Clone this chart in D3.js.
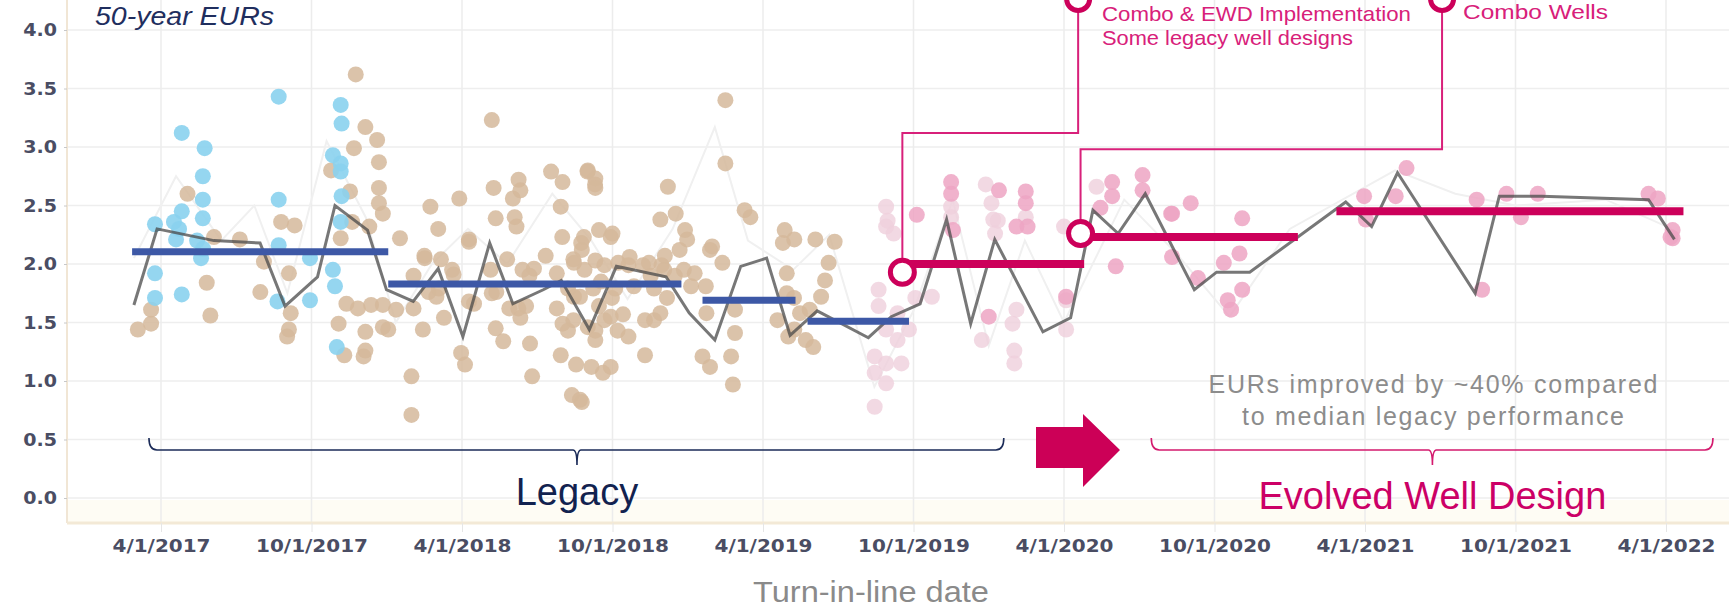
<!DOCTYPE html>
<html>
<head>
<meta charset="utf-8">
<script src="https://cdn.jsdelivr.net/npm/d3@7"></script>
<style>
  body { margin: 0; background: #fff; }
  svg { display: block; font-family: "Liberation Sans", Arial, sans-serif; }
</style>
</head>
<body>
<div id="canvas"></div>
<script>
"use strict"

/* Data: x is a decimal year (2017.25 = 4/1/2017), y is the 50-year EUR */
let xTickValues = [2017.25, 2017.75, 2018.25, 2018.75, 2019.25, 2019.75, 2020.25, 2020.75, 2021.25, 2021.75, 2022.25];
let xTickLabels = ["4/1/2017", "10/1/2017", "4/1/2018", "10/1/2018", "4/1/2019", "10/1/2019",
    "4/1/2020", "10/1/2020", "4/1/2021", "10/1/2021", "4/1/2022"];
let yTickValues = [0, 0.5, 1, 1.5, 2, 2.5, 3, 3.5, 4];

let bluePoints = [
    [2017.23, 2.34], [2017.23, 1.92], [2017.23, 1.71], [2017.293, 2.36], [2017.319, 3.12], [2017.319, 2.45],
    [2017.319, 1.74], [2017.395, 2.99], [2017.389, 2.75], [2017.389, 2.55], [2017.389, 2.39], [2017.383, 2.05],
    [2017.30, 2.21], [2017.31, 2.30], [2017.37, 2.20], [2017.39, 2.13], [2017.641, 3.43], [2017.641, 2.55],
    [2017.641, 2.16], [2017.637, 1.68], [2017.745, 1.69], [2017.745, 2.05], [2017.821, 2.93], [2017.821, 1.95],
    [2017.828, 1.81], [2017.834, 1.29], [2017.847, 3.36], [2017.85, 3.20], [2017.847, 2.86], [2017.847, 2.79],
    [2017.85, 2.58], [2017.847, 2.36]
];

let tanPoints = [
    [2017.897, 3.62], [2017.338, 2.60], [2017.929, 3.17], [2017.968, 3.06], [2017.891, 2.99], [2017.974, 2.87],
    [2017.815, 2.80], [2017.974, 2.65], [2017.878, 2.62], [2017.974, 2.52], [2017.987, 2.43], [2017.942, 2.32],
    [2017.885, 2.36], [2017.847, 2.22], [2018.145, 2.49], [2018.171, 2.30], [2018.241, 2.56], [2018.044, 2.22],
    [2018.273, 2.21], [2018.349, 3.23], [2018.355, 2.65], [2018.419, 2.56], [2018.438, 2.72], [2018.444, 2.63],
    [2018.362, 2.39], [2018.425, 2.40], [2018.431, 2.32], [2018.546, 2.79], [2018.584, 2.70], [2018.578, 2.49],
    [2018.667, 2.79], [2018.692, 2.68], [2017.426, 2.23], [2017.512, 2.21], [2017.649, 2.36], [2017.694, 2.33],
    [2017.173, 1.44], [2017.217, 1.49], [2017.217, 1.61], [2017.402, 1.84], [2017.414, 1.56], [2017.58, 1.76],
    [2017.592, 2.02], [2017.675, 1.92], [2017.681, 1.58], [2017.675, 1.44], [2017.669, 1.38], [2017.84, 1.49],
    [2017.859, 1.22], [2017.929, 1.42], [2017.929, 1.26], [2017.923, 1.21], [2017.866, 1.66], [2017.904, 1.62],
    [2017.948, 1.65], [2017.987, 1.65], [2018.031, 1.61], [2017.987, 1.46], [2018.005, 1.44], [2018.082, 1.04],
    [2018.082, 0.71], [2018.12, 1.44], [2018.19, 1.54], [2018.126, 2.05], [2018.139, 1.76], [2018.165, 1.72],
    [2018.222, 1.91], [2018.247, 1.24], [2018.26, 1.14], [2018.273, 2.19], [2018.273, 1.68], [2018.349, 1.75],
    [2018.362, 1.45], [2018.387, 1.34], [2018.444, 1.54], [2018.451, 1.95], [2018.489, 1.96], [2018.463, 1.64],
    [2018.476, 1.32], [2018.483, 1.04], [2018.578, 1.22], [2018.615, 0.88], [2018.648, 0.82], [2018.629, 1.14],
    [2018.68, 1.12], [2018.584, 1.49], [2018.622, 1.72], [2018.622, 2.01], [2018.648, 2.12], [2018.655, 2.23],
    [2018.744, 2.23], [2018.693, 2.03], [2018.769, 2.01], [2018.807, 2.06], [2018.871, 2.01], [2018.922, 1.95],
    [2018.973, 2.12], [2018.998, 2.21], [2019.023, 1.92], [2019.011, 1.81], [2019.074, 2.12], [2018.642, 1.72],
    [2018.705, 1.64], [2018.744, 1.55], [2018.668, 1.46], [2018.693, 1.35], [2018.744, 1.12], [2018.718, 1.07],
    [2018.642, 0.84], [2018.858, 1.22], [2018.909, 1.58], [2019.049, 1.21], [2019.074, 1.12], [2019.144, 1.21],
    [2019.157, 1.41], [2019.15, 0.97], [2019.157, 1.61], [2019.062, 1.58], [2019.329, 1.92], [2019.316, 2.18],
    [2019.329, 1.75], [2019.354, 1.44], [2019.392, 1.35], [2019.417, 1.29], [2019.405, 1.61], [2019.456, 1.86],
    [2019.443, 1.72], [2019.468, 2.01], [2019.373, 1.58], [2019.125, 3.40], [2019.125, 2.86], [2018.668, 2.80],
    [2018.693, 2.73], [2018.693, 2.65], [2018.934, 2.66], [2018.909, 2.38], [2018.96, 2.43], [2018.991, 2.29],
    [2019.189, 2.46], [2019.208, 2.40], [2019.322, 2.29], [2019.354, 2.21], [2019.424, 2.21], [2019.488, 2.19],
    [2018.705, 2.29], [2018.75, 2.26], [2019.081, 2.15], [2018.583, 2.23], [2018.62, 2.04], [2018.657, 1.95],
    [2018.712, 1.85], [2018.748, 1.71], [2018.785, 1.57], [2018.821, 1.81], [2018.877, 1.90], [2018.913, 1.99],
    [2018.931, 1.71], [2018.62, 1.52], [2018.693, 1.43], [2018.767, 1.43], [2018.858, 1.52], [2018.40, 2.04],
    [2018.474, 1.90], [2018.437, 1.62], [2018.345, 1.95], [2018.29, 1.66], [2018.18, 2.04], [2018.089, 1.62],
    [2019.298, 1.52], [2019.334, 1.38], [2019.353, 1.71], [2018.528, 2.07], [2018.565, 1.92], [2018.602, 1.79],
    [2018.646, 2.18], [2018.686, 1.79], [2018.723, 1.99], [2018.759, 1.79], [2018.803, 1.99], [2018.851, 1.99],
    [2018.888, 1.79], [2018.924, 2.07], [2018.957, 1.90], [2018.565, 1.62], [2018.602, 1.43], [2018.723, 1.52],
    [2018.803, 1.38], [2018.888, 1.52], [2018.987, 1.95], [2018.089, 1.90], [2018.125, 2.07], [2018.173, 1.79],
    [2018.217, 1.95], [2018.364, 1.76], [2018.407, 1.62], [2019.06, 1.81], [2019.115, 2.01]
];

let fadedPinkPoints = [
    [2019.659, 2.49], [2019.659, 2.32], [2019.684, 2.26], [2019.875, 2.49], [2019.875, 2.40], [2019.99, 2.68],
    [2020.009, 2.52], [2020.015, 2.38], [2020.021, 2.26], [2020.123, 2.40], [2020.25, 2.32], [2020.358, 2.66],
    [2019.634, 1.78], [2019.634, 1.64], [2019.659, 1.44], [2019.697, 1.58], [2019.621, 1.21], [2019.659, 1.15],
    [2019.621, 1.07], [2019.659, 0.98], [2019.621, 0.78], [2019.697, 1.35], [2019.71, 1.15], [2019.735, 1.44],
    [2019.811, 1.72], [2019.977, 1.35], [2020.079, 1.49], [2020.085, 1.26], [2020.085, 1.15], [2020.092, 1.61],
    [2020.257, 1.44], [2020.257, 1.69], [2019.664, 2.37], [2019.756, 1.71], [2020.03, 2.37]
];

let pinkPoints = [
    [2019.761, 2.42], [2019.875, 2.70], [2019.875, 2.60], [2019.881, 2.29], [2020.034, 2.63], [2020.123, 2.62],
    [2020.123, 2.52], [2020.092, 2.32], [2020.129, 2.32], [2020.41, 2.70], [2020.41, 2.58], [2020.511, 2.76],
    [2020.511, 2.63], [2020.371, 2.48], [2020.606, 2.43], [2020.0, 1.55], [2020.257, 1.72], [2020.422, 1.98],
    [2021.388, 2.82], [2021.352, 2.58], [2021.247, 2.58], [2021.253, 2.38], [2021.621, 2.55], [2021.72, 2.60],
    [2021.824, 2.60], [2021.768, 2.40], [2022.192, 2.60], [2022.223, 2.56], [2022.272, 2.29], [2022.272, 2.22],
    [2020.671, 2.52], [2020.609, 2.43], [2020.842, 2.39], [2020.609, 2.06], [2020.695, 1.88], [2020.781, 2.01],
    [2020.833, 2.09], [2020.842, 1.78], [2020.805, 1.61], [2020.794, 1.69], [2021.639, 1.78], [2022.265, 2.23]
];

let medianLine = [
    [2017.16, 1.65], [2017.237, 2.30], [2017.426, 2.20], [2017.579, 2.18], [2017.662, 1.64], [2017.77, 1.89],
    [2017.828, 2.50], [2017.936, 2.29], [2017.999, 1.78], [2018.088, 1.68], [2018.171, 1.96], [2018.253, 1.38],
    [2018.342, 2.18], [2018.419, 1.66], [2018.52, 1.78], [2018.58, 1.86], [2018.673, 1.44], [2018.763, 1.98],
    [2018.928, 1.89], [2019.005, 1.58], [2019.09, 1.35], [2019.176, 1.98], [2019.262, 2.05], [2019.34, 1.39],
    [2019.43, 1.60], [2019.6, 1.37], [2019.676, 1.55], [2019.772, 1.66], [2019.86, 2.38], [2019.94, 1.49],
    [2020.02, 2.21], [2020.18, 1.42], [2020.272, 1.54], [2020.346, 2.46], [2020.43, 2.26], [2020.52, 2.60],
    [2020.683, 1.78], [2020.757, 1.93], [2020.867, 1.93], [2021.186, 2.53], [2021.272, 2.32], [2021.358, 2.78],
    [2021.616, 1.75], [2021.696, 2.58], [2021.837, 2.58], [2022.192, 2.55], [2022.278, 2.21]
];

let faintLine = [
    [2017.16, 2.05], [2017.3, 2.75], [2017.45, 2.2], [2017.56, 2.5], [2017.67, 1.75], [2017.8, 3.05],
    [2017.93, 2.4], [2018.03, 1.5], [2018.15, 2.0], [2018.27, 2.3], [2018.4, 2.0], [2018.55, 2.6],
    [2018.68, 2.2], [2018.8, 1.7], [2018.95, 2.3], [2019.09, 3.17], [2019.2, 2.2], [2019.35, 1.95],
    [2019.47, 2.25], [2019.62, 0.95], [2019.75, 1.6], [2019.88, 2.55], [2020.0, 1.3], [2020.12, 2.2],
    [2020.25, 1.5], [2020.45, 2.55], [2020.62, 2.1], [2020.8, 1.55], [2021.0, 2.3], [2021.35, 2.8],
    [2021.55, 2.6], [2021.75, 2.5], [2022.05, 2.55], [2022.27, 2.3]
];

// period medians: [start, end, value]
let legacyMedians = [[2017.154, 2018.005, 2.105], [2018.005, 2018.979, 1.83], [2019.049, 2019.358, 1.69], [2019.398, 2019.735, 1.51]];
let evolvedMedians = [[2019.713, 2020.317, 2.0], [2020.305, 2021.027, 2.23], [2021.155, 2022.308, 2.45]];

/* Drawing config */
let svgWidth = 1729;
let svgHeight = 607;
let plotLeft = 67;
let plotBottom = 523;
let magenta = "#cc005a";
let calloutPink = "#d8207a";

let svg = d3.select("#canvas")
    .append("svg")
    .attr("width", svgWidth)
    .attr("height", svgHeight);

let xScale = d3.scaleLinear()
    .domain([2017.25, 2022.25])
    .range([161, 1666]);

let yScale = d3.scaleLinear()
    .domain([0, 4])
    .range([498, 30]);

/* plot frame: cream band at bottom + beige borders */
svg.append("rect")
    .attr("x", plotLeft).attr("y", 500)
    .attr("width", svgWidth - plotLeft).attr("height", plotBottom - 500)
    .attr("fill", "#fefcf4");

/* grid */
svg.append("g")
    .selectAll("line.h")
    .data(yTickValues)
    .join("line")
    .attr("x1", plotLeft).attr("x2", svgWidth)
    .attr("y1", d => yScale(d)).attr("y2", d => yScale(d))
    .attr("stroke", "#eeeeee").attr("stroke-width", 1.5);

svg.append("g")
    .selectAll("line.v")
    .data(xTickValues)
    .join("line")
    .attr("x1", d => xScale(d)).attr("x2", d => xScale(d))
    .attr("y1", 0).attr("y2", plotBottom)
    .attr("stroke", "#ececec").attr("stroke-width", 1.5);

svg.append("line")
    .attr("x1", plotLeft).attr("x2", plotLeft)
    .attr("y1", 0).attr("y2", plotBottom)
    .attr("stroke", "#f1e6d5").attr("stroke-width", 2);

/* axes */
let xAxis = svg.append("g")
    .attr("transform", `translate(0,${plotBottom})`)
    .call(d3.axisBottom(xScale)
        .tickValues(xTickValues)
        .tickFormat((d, i) => xTickLabels[i])
        .tickSize(9)
        .tickPadding(7));
xAxis.select(".domain").attr("stroke", "#f3e9d6").attr("stroke-width", 3)
    .attr("d", `M${plotLeft},0H${svgWidth}`);
xAxis.selectAll(".tick line").attr("stroke", "#e6e6e6");
xAxis.selectAll("text")
    .attr("font-family", "'DejaVu Sans', sans-serif")
    .attr("font-weight", "bold")
    .attr("font-size", 18)
    .attr("fill", "#4a4d63")
    .each(function () {
        let w = this.getComputedTextLength();
        d3.select(this).attr("textLength", w * 1.11).attr("lengthAdjust", "spacingAndGlyphs");
    });

let yAxis = svg.append("g")
    .attr("transform", `translate(${plotLeft},0)`)
    .call(d3.axisLeft(yScale)
        .tickValues(yTickValues)
        .tickFormat(d3.format(".1f"))
        .tickSize(3)
        .tickPadding(7));
yAxis.select(".domain").remove();
yAxis.selectAll(".tick line").attr("stroke", "#c8c8c8");
yAxis.selectAll("text")
    .attr("font-family", "'DejaVu Sans', sans-serif")
    .attr("font-weight", "bold")
    .attr("font-size", 18)
    .attr("fill", "#4a4d63")
    .each(function () {
        let w = this.getComputedTextLength();
        d3.select(this).attr("textLength", w * 1.06).attr("lengthAdjust", "spacingAndGlyphs");
    });

/* lines and points */
let line = d3.line()
    .x(d => xScale(d[0]))
    .y(d => yScale(d[1]));

svg.append("path")
    .datum(faintLine)
    .attr("d", line)
    .attr("fill", "none")
    .attr("stroke", "#f0f0f0")
    .attr("stroke-width", 2);

function drawPoints(data, color, opacity) {
    svg.append("g")
        .selectAll("circle")
        .data(data)
        .join("circle")
        .attr("cx", d => xScale(d[0]))
        .attr("cy", d => yScale(d[1]))
        .attr("r", 8)
        .attr("fill", color)
        .attr("fill-opacity", opacity);
}

drawPoints(tanPoints, "#d5b89b", 0.85);
drawPoints(bluePoints, "#8ad2ee", 0.9);
drawPoints(fadedPinkPoints, "#efcfdc", 0.8);
drawPoints(pinkPoints, "#eda4c3", 0.85);

svg.append("path")
    .datum(medianLine)
    .attr("d", line)
    .attr("fill", "none")
    .attr("stroke", "#4a4a4a")
    .attr("stroke-opacity", 0.75)
    .attr("stroke-width", 3);

svg.append("g")
    .selectAll("line")
    .data(legacyMedians)
    .join("line")
    .attr("x1", d => xScale(d[0])).attr("x2", d => xScale(d[1]))
    .attr("y1", d => yScale(d[2])).attr("y2", d => yScale(d[2]))
    .attr("stroke", "#3d58a6")
    .attr("stroke-width", 7);

svg.append("g")
    .selectAll("line")
    .data(evolvedMedians)
    .join("line")
    .attr("x1", d => xScale(d[0])).attr("x2", d => xScale(d[1]))
    .attr("y1", d => yScale(d[2])).attr("y2", d => yScale(d[2]))
    .attr("stroke", magenta)
    .attr("stroke-width", 8);

/* callouts */
let callouts = [
    { t: 2019.713, v: 1.93, elbowV: 3.12, topT: 2020.297 },
    { t: 2020.305, v: 2.26, elbowV: 2.98, topT: 2021.506 }
];
callouts.forEach(c => {
    let cx = xScale(c.t), cy = yScale(c.v), ey = yScale(c.elbowV), tx = xScale(c.topT);
    svg.append("path")
        .attr("d", `M${cx},${cy}V${ey}H${tx}V0`)
        .attr("fill", "none")
        .attr("stroke", calloutPink)
        .attr("stroke-width", 2);
    svg.append("circle")
        .attr("cx", tx).attr("cy", -1).attr("r", 11.5)
        .attr("fill", "#fff").attr("stroke", magenta).attr("stroke-width", 5);
    svg.append("circle")
        .attr("cx", cx).attr("cy", cy).attr("r", 12)
        .attr("fill", "#fff").attr("stroke", magenta).attr("stroke-width", 5);
});

svg.append("text")
    .attr("x", 1102).attr("y", 21)
    .attr("font-size", 21).attr("fill", calloutPink)
    .attr("textLength", 309).attr("lengthAdjust", "spacingAndGlyphs")
    .text("Combo & EWD Implementation");
svg.append("text")
    .attr("x", 1102).attr("y", 45)
    .attr("font-size", 21).attr("fill", calloutPink)
    .attr("textLength", 251).attr("lengthAdjust", "spacingAndGlyphs")
    .text("Some legacy well designs");
svg.append("text")
    .attr("x", 1463).attr("y", 19)
    .attr("font-size", 20).attr("fill", calloutPink)
    .attr("textLength", 145).attr("lengthAdjust", "spacingAndGlyphs")
    .text("Combo Wells");

/* title */
svg.append("text")
    .attr("x", 95).attr("y", 25)
    .attr("font-size", 26).attr("font-style", "italic")
    .attr("fill", "#1f2e5e")
    .attr("textLength", 179).attr("lengthAdjust", "spacingAndGlyphs")
    .text("50-year EURs");

/* braces */
function brace(x1, x2, xm, color) {
    let yb = 450, yt = 438, ym = 465;
    svg.append("path")
        .attr("d", `M${x1},${yt}Q${x1},${yb} ${x1 + 8},${yb}H${xm - 4}Q${xm},${yb} ${xm},${ym}` +
            `Q${xm},${yb} ${xm + 4},${yb}H${x2 - 8}Q${x2},${yb} ${x2},${yt}`)
        .attr("fill", "none")
        .attr("stroke", color)
        .attr("stroke-width", 1.6);
}
brace(xScale(2017.21), xScale(2020.05), xScale(2018.632), "#1b2b58");
brace(xScale(2020.54), xScale(2022.406), xScale(2021.474), "#d41a6e");

svg.append("text")
    .attr("x", xScale(2018.632)).attr("y", 505)
    .attr("text-anchor", "middle")
    .attr("font-size", 38).attr("fill", "#12224f")
    .text("Legacy");

svg.append("text")
    .attr("x", xScale(2021.474)).attr("y", 509)
    .attr("text-anchor", "middle")
    .attr("font-size", 38).attr("fill", "#cc0066")
    .text("Evolved Well Design");

/* arrow */
svg.append("path")
    .attr("d", "M1036,427H1083V414L1120,450L1083,487V468H1036Z")
    .attr("fill", "#cc0057");

/* improvement note */
svg.append("text")
    .attr("x", 1433).attr("y", 393)
    .attr("text-anchor", "middle")
    .attr("font-size", 25).attr("fill", "#8c8c8c")
    .attr("textLength", 449).attr("lengthAdjust", "spacing")
    .text("EURs improved by ~40% compared");
svg.append("text")
    .attr("x", 1433).attr("y", 425)
    .attr("text-anchor", "middle")
    .attr("font-size", 25).attr("fill", "#8c8c8c")
    .attr("textLength", 382).attr("lengthAdjust", "spacing")
    .text("to median legacy performance");

/* x axis label */
svg.append("text")
    .attr("x", 871).attr("y", 602)
    .attr("text-anchor", "middle")
    .attr("font-size", 29).attr("fill", "#8a8a8a")
    .attr("textLength", 236).attr("lengthAdjust", "spacingAndGlyphs")
    .text("Turn-in-line date");
</script>
</body>
</html>
